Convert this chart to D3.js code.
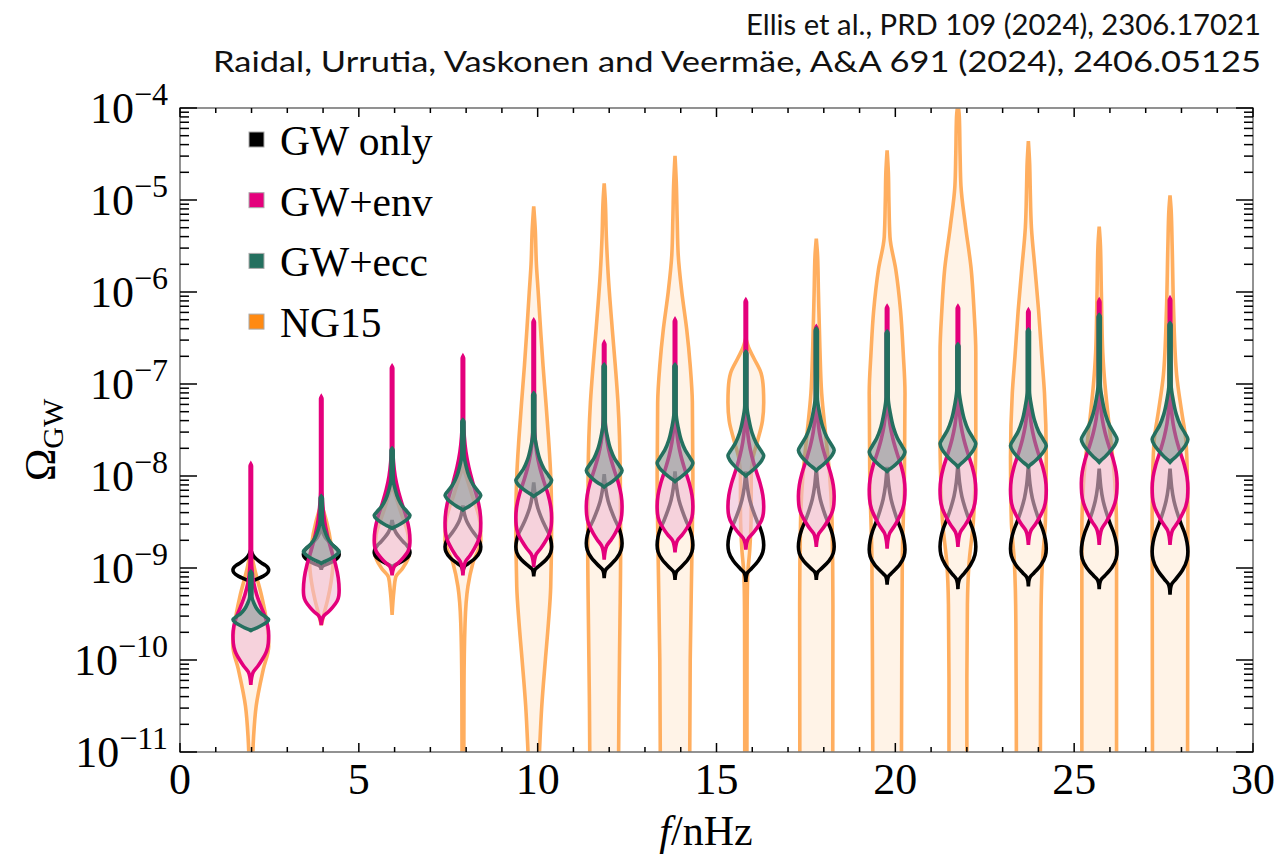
<!DOCTYPE html>
<html>
<head>
<meta charset="utf-8">
<script src="https://cdn.jsdelivr.net/npm/d3@7"></script>
<style>
  body { margin: 0; background: #fff; }
  svg { display: block; }
</style>
</head>
<body>
<svg id="chart" width="1281" height="859"></svg>
<script>

// frequency bins (nHz)
const freqs = [1.98, 3.95, 5.93, 7.91, 9.89, 11.86, 13.84, 15.82, 17.79, 19.77, 21.75, 23.72, 25.70, 27.68];

// log10 Omega values: peak of each violin, lower end, upper reach of the body, top of the tail
const gwPeak   = [-9.02, -8.85, -8.83, -8.77, -8.77, -8.73, -8.75, -8.75, -8.77, -8.80, -8.77, -8.79, -8.82, -8.82];
const gwBottom = [-9.18, -9.02, -9.02, -9.05, -9.09, -9.11, -9.13, -9.15, -9.13, -9.18, -9.23, -9.20, -9.23, -9.29];
const gwUpper  = [0.22, 0.30, 0.35, 0.45, 0.70, 0.75, 0.80, 0.80, 0.85, 0.90, 0.90, 0.90, 0.90, 0.90];

const envPeak   = [-9.73, -9.24, -8.70, -8.51, -8.45, -8.33, -8.33, -8.33, -8.22, -8.15, -8.15, -8.15, -8.08, -8.13];
const envBottom = [-10.27, -9.62, -9.08, -9.08, -8.99, -8.91, -8.83, -8.80, -8.77, -8.79, -8.77, -8.75, -8.75, -8.75];
const envUpper  = [0.80, 1.10, 1.00, 1.10, 1.00, 1.00, 1.00, 1.00, 1.00, 1.00, 1.00, 1.00, 1.00, 1.00];
const envTop    = [-7.87, -7.14, -6.81, -6.70, -6.31, -6.55, -6.30, -6.09, -6.38, -6.16, -6.16, -6.20, -6.09, -6.07];

const eccPeak   = [-9.56, -8.82, -8.43, -8.21, -8.05, -7.94, -7.86, -7.78, -7.72, -7.74, -7.65, -7.67, -7.60, -7.60];
const eccBottom = [-9.68, -8.95, -8.57, -8.37, -8.22, -8.12, -8.06, -8.00, -7.94, -7.95, -7.90, -7.90, -7.85, -7.85];
const eccUpper  = [0.25, 0.33, 0.40, 0.45, 0.50, 0.52, 0.55, 0.55, 0.58, 0.60, 0.60, 0.60, 0.60, 0.60];
const eccTop    = [-9.04, -8.22, -7.70, -7.39, -7.10, -6.79, -6.79, -6.65, -6.40, -6.43, -6.57, -6.41, -6.25, -6.34];

// violin outlines: [fraction of the way from peak, relative half width]
const gwLowerShape  = [[0, 1], [0.19, 0.95], [0.43, 0.7], [0.65, 0.3], [0.75, 0.1], [0.85, 0.03], [1, 0]];
const gwUpperShape  = [[0, 1], [0.11, 0.95], [0.22, 0.82], [0.33, 0.62], [0.47, 0.4], [0.61, 0.22], [0.78, 0.09], [0.92, 0.03], [1, 0]];
const envLowerShape = [[0, 1], [0.16, 0.98], [0.32, 0.88], [0.5, 0.62], [0.62, 0.4], [0.74, 0.14], [0.87, 0.04], [1, 0]];
const envUpperShape = [[0, 1], [0.12, 0.95], [0.25, 0.8], [0.4, 0.55], [0.55, 0.33], [0.7, 0.17], [0.85, 0.08], [1, 0.04]];
const eccLowerShape = [[0, 1], [0.25, 0.88], [0.5, 0.64], [0.75, 0.34], [0.9, 0.12], [1, 0]];
const eccUpperShape = [[0, 1], [0.1, 0.85], [0.25, 0.58], [0.45, 0.35], [0.7, 0.18], [1, 0.06]];

// NG15 violins, [log10 Omega, relative half width], top to bottom
const ng15 = [
  [[-8.8, 0], [-9.0, 0.2], [-9.3, 0.6], [-9.6, 0.9], [-9.85, 1.0], [-10.1, 0.7], [-10.5, 0.3], [-10.85, 0.15], [-11.3, 0.08]],
  [[-8.3, 0], [-8.5, 0.3], [-8.75, 0.55], [-8.95, 0.65], [-9.15, 0.55], [-9.35, 0.35], [-9.5, 0.15], [-9.62, 0]],
  [[-8.1, 0], [-8.4, 0.5], [-8.65, 0.9], [-8.85, 0.95], [-9.0, 0.6], [-9.1, 0.2], [-9.25, 0.1], [-9.51, 0]],
  [[-7.9, 0], [-8.2, 0.5], [-8.5, 0.95], [-8.7, 1.0], [-8.95, 0.55], [-9.2, 0.28], [-9.6, 0.12], [-10.3, 0.06], [-11.2, 0.05]],
  [[-5.07, 0], [-5.3, 0.08], [-5.7, 0.15], [-6.0, 0.25], [-6.4, 0.38], [-6.8, 0.52], [-7.2, 0.68], [-7.6, 0.83], [-8.0, 0.95], [-8.5, 1.0], [-9.2, 0.95], [-9.6, 0.82], [-10.0, 0.65], [-10.5, 0.45], [-11.0, 0.32], [-11.3, 0.25]],
  [[-4.82, 0], [-5.0, 0.06], [-5.4, 0.12], [-5.8, 0.22], [-6.4, 0.45], [-6.8, 0.62], [-7.2, 0.77], [-8.0, 0.9], [-8.8, 0.92], [-9.6, 0.88], [-10.4, 0.83], [-11.2, 0.8]],
  [[-4.52, 0], [-4.8, 0.07], [-5.2, 0.12], [-5.6, 0.18], [-6.0, 0.38], [-6.4, 0.65], [-6.8, 0.85], [-7.2, 0.97], [-8.0, 1.0], [-8.8, 0.95], [-10.0, 0.85], [-11.2, 0.82]],
  [[-6.5, 0], [-6.6, 0.15], [-6.72, 0.45], [-6.88, 0.85], [-7.05, 0.98], [-7.2, 1.0], [-7.4, 0.93], [-7.6, 0.68], [-7.8, 0.4], [-8.0, 0.3], [-8.4, 0.3], [-8.8, 0.22], [-9.1, 0.1], [-9.6, 0.07], [-11.2, 0.06]],
  [[-5.42, 0], [-5.6, 0.07], [-6.0, 0.12], [-6.6, 0.2], [-7.1, 0.3], [-7.6, 0.55], [-8.0, 0.75], [-8.5, 0.88], [-9.4, 0.93], [-11.2, 0.92]],
  [[-4.46, 0], [-4.7, 0.07], [-5.0, 0.1], [-5.4, 0.16], [-5.75, 0.48], [-6.2, 0.75], [-6.66, 0.9], [-7.1, 1.0], [-8.0, 0.97], [-8.9, 0.85], [-10.0, 0.82], [-11.2, 0.8]],
  [[-3.95, 0], [-4.1, 0.08], [-4.5, 0.12], [-4.85, 0.17], [-5.28, 0.42], [-5.75, 0.74], [-6.2, 0.9], [-6.66, 1.0], [-7.6, 1.0], [-8.1, 0.95], [-8.5, 0.86], [-8.95, 0.62], [-9.4, 0.53], [-10.2, 0.5], [-11.2, 0.5]],
  [[-4.36, 0], [-4.6, 0.07], [-4.85, 0.1], [-5.3, 0.17], [-5.75, 0.37], [-6.2, 0.57], [-6.7, 0.75], [-7.1, 0.9], [-7.8, 1.0], [-8.5, 0.95], [-8.95, 0.78], [-9.6, 0.7], [-11.2, 0.67]],
  [[-5.29, 0], [-5.5, 0.07], [-6.0, 0.12], [-6.66, 0.2], [-7.0, 0.32], [-7.35, 0.5], [-7.7, 0.7], [-8.03, 0.86], [-8.6, 0.97], [-11.2, 0.97]],
  [[-4.95, 0], [-5.1, 0.06], [-5.5, 0.12], [-6.2, 0.2], [-6.9, 0.37], [-7.3, 0.65], [-7.6, 0.88], [-8.0, 0.97], [-8.5, 1.0], [-11.2, 0.98]]
];

const legendItems = [
  { label: "GW only", color: "#000000" },
  { label: "GW+env",  color: "#e4007c" },
  { label: "GW+ecc",  color: "#24705f" },
  { label: "NG15",    color: "#ff8a12" }
];

const xTicks = [0, 5, 10, 15, 20, 25, 30];
const yExps = [-11, -10, -9, -8, -7, -6, -5, -4];

const credits = [
  "Ellis et al., PRD 109 (2024), 2306.17021",
  "Raidal, Urrutia, Vaskonen and Veermäe, A&A 691 (2024), 2406.05125"
];

// ---------------------------------------------------------------

const margin = { top: 108, right: 28, bottom: 107, left: 180 };
const width = 1281, height = 859;
const innerWidth = width - margin.left - margin.right;
const innerHeight = height - margin.top - margin.bottom;
const serif = "'Liberation Serif', 'Times New Roman', serif";

const svg = d3.select("#chart");

const xScale = d3.scaleLinear().domain([0, 30]).range([margin.left, margin.left + innerWidth]);
const yScale = d3.scaleLog().domain([1e-11, 1e-4]).range([margin.top + innerHeight, margin.top]);
const halfWidth = 0.5; // nHz at relative width 1

svg.append("clipPath").attr("id", "plot-clip")
  .append("rect")
    .attr("x", margin.left).attr("y", margin.top)
    .attr("width", innerWidth).attr("height", innerHeight);

const buildProfile = (peak, bottom, upper, top, lowerShape, upperShape) => {
  const pts = [];
  if (top !== null) {
    const tailW = upperShape[upperShape.length - 1][1];
    pts.push([top, 0]);
    pts.push([top - 0.02, tailW]);
  }
  upperShape.slice().reverse().forEach(([v, w]) => pts.push([peak + v * upper, w]));
  lowerShape.slice(1).forEach(([u, w]) => pts.push([peak - u * (peak - bottom), w]));
  return pts;
};

const violinPath = (f, pts) => d3.area()
  .curve(d3.curveMonotoneY)
  .y(d => yScale(10 ** d[0]))
  .x0(d => xScale(f - d[1] * halfWidth))
  .x1(d => xScale(f + d[1] * halfWidth))(pts);

const plot = svg.append("g").attr("clip-path", "url(#plot-clip)");

// NG15
plot.append("g").selectAll("path")
  .data(freqs.map((f, i) => ({ f, pts: ng15[i] })))
  .join("path")
    .attr("d", d => violinPath(d.f, d.pts))
    .attr("fill", "#fff3e7")
    .attr("stroke", "#ffae5f")
    .attr("stroke-width", 3.6);

// GW only
plot.append("g").selectAll("path")
  .data(freqs.map((f, i) => ({ f, pts: buildProfile(gwPeak[i], gwBottom[i], gwUpper[i], null, gwLowerShape, gwUpperShape) })))
  .join("path")
    .attr("d", d => violinPath(d.f, d.pts))
    .attr("fill", "none")
    .attr("stroke", "#000")
    .attr("stroke-width", 3.6);

// GW + environment
plot.append("g").selectAll("path")
  .data(freqs.map((f, i) => ({ f, pts: buildProfile(envPeak[i], envBottom[i], envUpper[i], envTop[i], envLowerShape, envUpperShape) })))
  .join("path")
    .attr("d", d => violinPath(d.f, d.pts))
    .attr("fill", "rgba(240,188,214,0.6)")
    .attr("stroke", "#e4007c")
    .attr("stroke-width", 3.6);

// GW + eccentricity
plot.append("g").selectAll("path")
  .data(freqs.map((f, i) => ({ f, pts: buildProfile(eccPeak[i], eccBottom[i], eccUpper[i], eccTop[i], eccLowerShape, eccUpperShape) })))
  .join("path")
    .attr("d", d => violinPath(d.f, d.pts))
    .attr("fill", "rgba(127,149,148,0.55)")
    .attr("stroke", "#24705f")
    .attr("stroke-width", 3.6);

// frame
svg.append("rect")
  .attr("x", margin.left).attr("y", margin.top)
  .attr("width", innerWidth).attr("height", innerHeight)
  .attr("fill", "none")
  .attr("stroke", "#777")
  .attr("stroke-width", 1.6);

// ticks
const ticks = svg.append("g").attr("stroke", "#000").attr("stroke-width", 1.5);
d3.range(0, 31, 1).forEach(v => {
  const len = v % 5 === 0 ? 9 : 5;
  const px = xScale(v);
  ticks.append("line").attr("x1", px).attr("x2", px)
    .attr("y1", margin.top + innerHeight).attr("y2", margin.top + innerHeight - len);
  ticks.append("line").attr("x1", px).attr("x2", px)
    .attr("y1", margin.top).attr("y2", margin.top + len);
});
const yTickVals = [];
yExps.forEach(e => {
  yTickVals.push({ v: 10 ** e, major: true });
  if (e < -4) d3.range(2, 10).forEach(k => yTickVals.push({ v: k * 10 ** e, major: false }));
});
yTickVals.forEach(t => {
  const len = t.major ? 17 : 9;
  const py = yScale(t.v);
  ticks.append("line").attr("x1", margin.left).attr("x2", margin.left + len)
    .attr("y1", py).attr("y2", py);
  ticks.append("line").attr("x1", margin.left + innerWidth).attr("x2", margin.left + innerWidth - len)
    .attr("y1", py).attr("y2", py);
});

// tick labels
svg.append("g").selectAll("text")
  .data(xTicks)
  .join("text")
    .attr("x", d => xScale(d))
    .attr("y", 794)
    .attr("text-anchor", "middle")
    .attr("font-family", serif)
    .attr("font-size", 44)
    .text(d => d);

const yLabels = svg.append("g").selectAll("text")
  .data(yExps)
  .join("text")
    .attr("x", 168)
    .attr("y", d => yScale(10 ** d) + 15)
    .attr("text-anchor", "end")
    .attr("font-family", serif)
    .attr("font-size", 44);
yLabels.append("tspan").text("10");
yLabels.append("tspan")
  .attr("font-size", 32)
  .attr("dy", -18)
  .text(d => "\u2212" + Math.abs(d));

// axis titles
const xTitle = svg.append("text")
  .attr("x", 706).attr("y", 845)
  .attr("text-anchor", "middle")
  .attr("font-family", serif)
  .attr("font-size", 42);
xTitle.append("tspan").attr("font-style", "italic").text("f");
xTitle.append("tspan").text("/nHz");

const yTitle = svg.append("text")
  .attr("transform", "translate(55,440) rotate(-90)")
  .attr("text-anchor", "middle")
  .attr("font-family", serif)
  .attr("font-size", 44);
yTitle.append("tspan").text("Ω");
yTitle.append("tspan").attr("font-size", 30).attr("dy", 8).text("GW");

// legend
const legend = svg.append("g").selectAll("g")
  .data(legendItems)
  .join("g")
    .attr("transform", (d, i) => `translate(249, ${155 + i * 60.7})`);
legend.append("rect")
  .attr("x", 0).attr("y", -23)
  .attr("width", 15).attr("height", 15)
  .attr("fill", d => d.color)
  .attr("stroke", "#aaa")
  .attr("stroke-width", 1);
legend.append("text")
  .attr("x", 31).attr("y", 0)
  .attr("font-family", serif)
  .attr("font-size", 41.5)
  .text(d => d.label);

// credits, each line stretched to the width it has in the original
const creditWidths = [515, 1048];
svg.append("g").selectAll("text")
  .data(credits)
  .join("text")
    .attr("x", 1261)
    .attr("y", (d, i) => 35 + i * 37)
    .attr("text-anchor", "end")
    .attr("font-family", "Lato, 'Open Sans', sans-serif")
    .attr("font-size", 29)
    .attr("fill", "#111")
    .attr("textLength", (d, i) => creditWidths[i])
    .attr("lengthAdjust", "spacingAndGlyphs")
    .text(d => d);

</script>
</body>
</html>
